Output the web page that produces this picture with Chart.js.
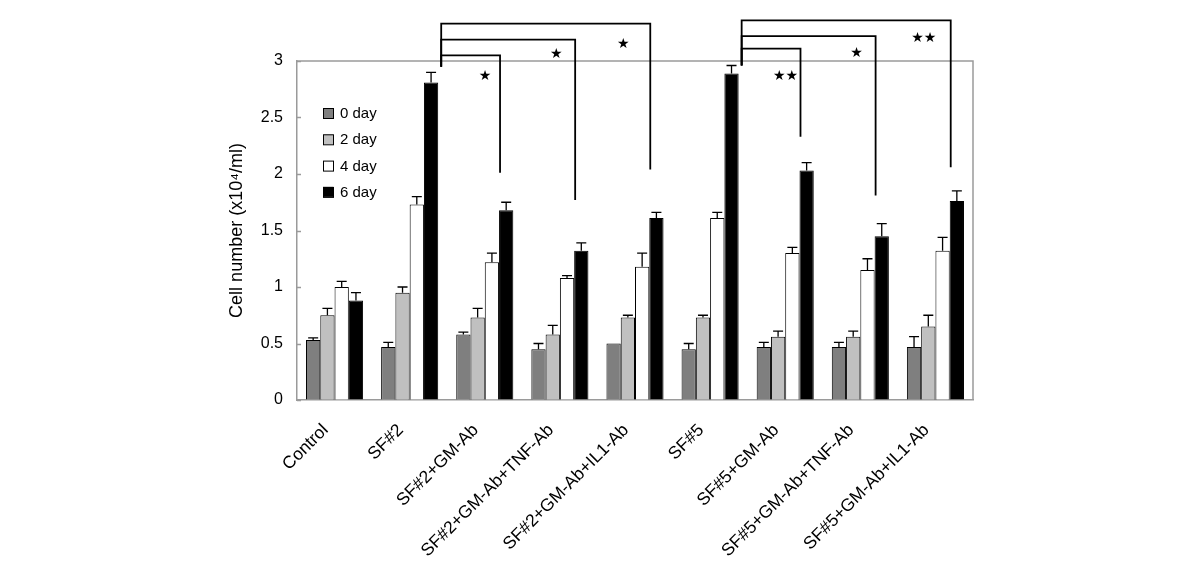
<!DOCTYPE html>
<html>
<head>
<meta charset="utf-8">
<script src="https://cdn.jsdelivr.net/npm/chart.js@4.4.1/dist/chart.umd.min.js"></script>
<style>
  html, body { margin: 0; padding: 0; background: #fff; }
  #wrap { width: 1200px; height: 578px; }
</style>
</head>
<body>
<div id="wrap"><canvas id="cell-chart" width="1200" height="578"></canvas></div>
<script>
const categories = [
  'Control', 'SF#2', 'SF#2+GM-Ab', 'SF#2+GM-Ab+TNF-Ab', 'SF#2+GM-Ab+IL1-Ab',
  'SF#5', 'SF#5+GM-Ab', 'SF#5+GM-Ab+TNF-Ab', 'SF#5+GM-Ab+IL1-Ab'
];
const seriesLabels = ['0 day', '2 day', '4 day', '6 day'];

const day0 = [0.53, 0.47, 0.58, 0.45, 0.50, 0.45, 0.47, 0.47, 0.47];
const day2 = [0.75, 0.95, 0.73, 0.58, 0.73, 0.73, 0.56, 0.56, 0.65];
const day4 = [1.00, 1.73, 1.22, 1.08, 1.18, 1.61, 1.30, 1.15, 1.32];
const day6 = [0.88, 2.81, 1.68, 1.32, 1.61, 2.89, 2.03, 1.45, 1.76];

const err0 = [0.02, 0.04, 0.02, 0.05, 0.00, 0.05, 0.04, 0.04, 0.09];
const err2 = [0.06, 0.05, 0.08, 0.08, 0.02, 0.02, 0.05, 0.05, 0.10];
const err4 = [0.05, 0.07, 0.08, 0.02, 0.12, 0.05, 0.05, 0.10, 0.12];
const err6 = [0.07, 0.09, 0.07, 0.07, 0.05, 0.07, 0.07, 0.11, 0.09];

const yTickValues = [0, 0.5, 1, 1.5, 2, 2.5, 3];
const yTickLabels = ['0', '0.5', '1', '1.5', '2', '2.5', '3'];

// significance brackets: from group -> to group, bracket level, end of drop line, star label and its height
const bracketFrom = [1, 1, 1, 5, 5, 5];
const bracketTo = [2, 3, 4, 6, 7, 8];
const bracketLevel = [3.05, 3.19, 3.33, 3.11, 3.22, 3.36];
const bracketStart = [2.95, 2.95, 2.95, 2.96, 2.96, 2.96];
const bracketEnd = [2.01, 1.77, 2.04, 2.33, 1.81, 2.06];
const bracketStars = ['★', '★', '★', '★★', '★', '★★'];
const starLevel = [2.86, 3.06, 3.15, 2.86, 3.07, 3.20];

const colors = ['#7f7f7f', '#c0c0c0', '#ffffff', '#000000'];
const errors = [err0, err2, err4, err6];
const FONT = '"Liberation Sans", Arial, sans-serif';

const errorBarPlugin = {
  id: 'errorBarPlugin',
  afterDatasetsDraw(chart) {
    const {ctx} = chart;
    const y = chart.scales.y;
    ctx.save();
    ctx.strokeStyle = '#000';
    ctx.lineWidth = 1.3;
    chart.data.datasets.forEach((ds, di) => {
      chart.getDatasetMeta(di).data.forEach((bar, i) => {
        const e = errors[di][i];
        if (!e) {
          return;
        }
        const top = y.getPixelForValue(ds.data[i] + e);
        ctx.beginPath();
        ctx.moveTo(bar.x, bar.y);
        ctx.lineTo(bar.x, top);
        ctx.moveTo(bar.x - 5, top);
        ctx.lineTo(bar.x + 5, top);
        ctx.stroke();
      });
    });
    ctx.restore();
  }
};

// grey box round the plot and short inward ticks on the value axis
const framePlugin = {
  id: 'framePlugin',
  afterDatasetsDraw(chart) {
    const {ctx, chartArea} = chart;
    const y = chart.scales.y;
    ctx.save();
    ctx.strokeStyle = '#9a9a9a';
    ctx.lineWidth = 1.5;
    ctx.beginPath();
    ctx.moveTo(chartArea.left, chartArea.top);
    ctx.lineTo(chartArea.right, chartArea.top);
    ctx.lineTo(chartArea.right, chartArea.bottom);
    yTickValues.forEach((v) => {
      const py = Math.round(y.getPixelForValue(v)) + 0.5;
      ctx.moveTo(chartArea.left, py);
      ctx.lineTo(chartArea.left + 4, py);
    });
    ctx.stroke();
    ctx.restore();
  }
};

const legendPlugin = {
  id: 'legendPlugin',
  afterDraw(chart) {
    const {ctx, chartArea} = chart;
    ctx.save();
    ctx.font = '15px ' + FONT;
    ctx.textBaseline = 'middle';
    ctx.textAlign = 'left';
    seriesLabels.forEach((label, i) => {
      const cy = chartArea.top + 52 + i * 26.3;
      const bx = chartArea.left + 26;
      ctx.fillStyle = colors[i];
      ctx.fillRect(bx, cy - 5, 10, 10);
      ctx.strokeStyle = '#000';
      ctx.lineWidth = 1;
      ctx.strokeRect(bx + 0.5, cy - 4.5, 10, 10);
      ctx.fillStyle = '#000';
      ctx.fillText(label, bx + 17, cy + 1);
    });
    ctx.restore();
  }
};

const bracketPlugin = {
  id: 'bracketPlugin',
  afterDraw(chart) {
    const {ctx} = chart;
    const y = chart.scales.y;
    const meta = chart.getDatasetMeta(3);
    ctx.save();
    ctx.strokeStyle = '#000';
    ctx.lineWidth = 1.8;
    ctx.font = '14px "DejaVu Sans", sans-serif';
    ctx.textAlign = 'center';
    ctx.textBaseline = 'middle';
    ctx.fillStyle = '#000';
    bracketFrom.forEach((from, k) => {
      const a = meta.data[from];
      const b = meta.data[bracketTo[k]];
      const x1 = a.x + a.width / 2 + 3;
      const x2 = b.x - b.width / 2 + 1;
      const yl = y.getPixelForValue(bracketLevel[k]);
      ctx.beginPath();
      ctx.moveTo(x1, y.getPixelForValue(bracketStart[k]));
      ctx.lineTo(x1, yl);
      ctx.lineTo(x2, yl);
      ctx.lineTo(x2, y.getPixelForValue(bracketEnd[k]));
      ctx.stroke();
      const sx = x2 - (k % 3 === 2 ? 27 : (k % 3 === 1 ? 19 : 15));
      ctx.fillText(bracketStars[k], sx, y.getPixelForValue(starLevel[k]));
    });
    ctx.restore();
  }
};

function renderChart() {
  const canvas = document.getElementById('cell-chart');
  const ctx = canvas.getContext('2d');

  const datasets = seriesLabels.map((label, i) => ({
    label: label,
    data: [day0, day2, day4, day6][i],
    backgroundColor: colors[i],
    borderColor: '#000000',
    borderWidth: 1,
    categoryPercentage: 0.76,
    barPercentage: 1.0
  }));

  new Chart(ctx, {
    type: 'bar',
    data: {
      labels: categories,
      datasets: datasets
    },
    options: {
      responsive: false,
      animation: false,
      devicePixelRatio: 1,
      layout: {
        padding: {left: 224, right: 227, top: 61, bottom: 0}
      },
      scales: {
        x: {
          grid: {display: false},
          border: {display: true, color: '#9a9a9a', width: 1.5},
          ticks: {
            color: '#000',
            font: {family: FONT, size: 17.5},
            minRotation: 45,
            maxRotation: 45,
            autoSkip: false,
            padding: 12,
            labelOffset: -9
          },
          afterFit(scale) {
            scale.height = 178;
          }
        },
        y: {
          min: 0,
          max: 3,
          afterBuildTicks(scale) {
            scale.ticks = yTickValues.map((v) => ({value: v}));
          },
          grid: {
            display: true,
            drawOnChartArea: false,
            drawTicks: true,
            tickLength: 10,
            tickColor: 'rgba(0,0,0,0)'
          },
          border: {display: true, color: '#9a9a9a', width: 1.5},
          ticks: {
            color: '#000',
            font: {family: FONT, size: 16},
            padding: 4,
            callback(value) {
              const idx = yTickValues.indexOf(value);
              return idx >= 0 ? yTickLabels[idx] : String(value);
            }
          },
          title: {
            display: true,
            text: 'Cell number (x10⁴/ml)',
            color: '#000',
            font: {family: FONT, size: 18},
            padding: {top: 2, bottom: 0}
          },
          afterFit(scale) {
            scale.width = 73;
          }
        }
      },
      plugins: {
        legend: {display: false},
        tooltip: {enabled: false}
      }
    },
    plugins: [errorBarPlugin, framePlugin, legendPlugin, bracketPlugin]
  });
}

renderChart();
</script>
</body>
</html>
